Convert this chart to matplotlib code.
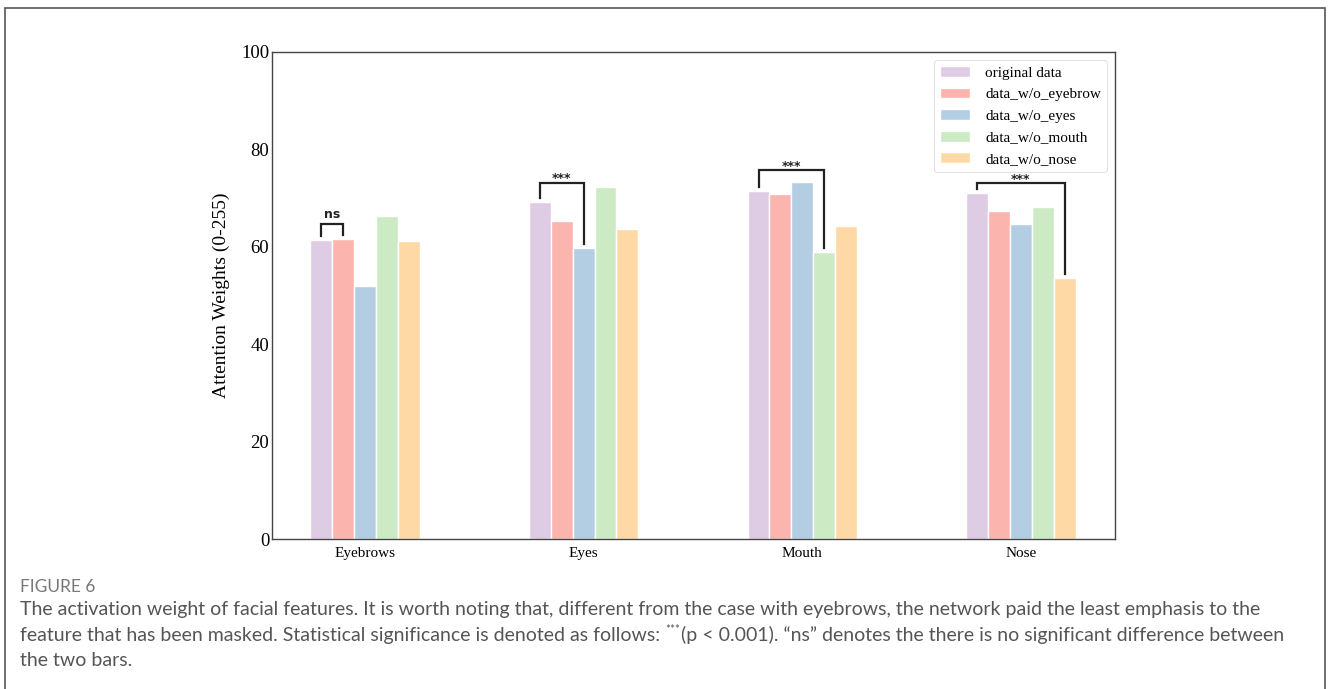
import matplotlib.pyplot as plt
import numpy as np
from matplotlib.patches import Rectangle

# ---------------------------------------------------------------------------
# data
# ---------------------------------------------------------------------------
features = ['Eyebrows', 'Eyes', 'Mouth', 'Nose']
series_names = ['original data', 'data_w/o_eyebrow', 'data_w/o_eyes',
                'data_w/o_mouth', 'data_w/o_nose']
original = [61.4, 69.2, 71.5, 71.0]
wo_eyebrow = [61.6, 65.3, 70.8, 67.4]
wo_eyes = [52.0, 59.8, 73.3, 64.7]
wo_mouth = [66.3, 72.3, 58.9, 68.2]
wo_nose = [61.2, 63.7, 64.3, 53.6]
series_values = [original, wo_eyebrow, wo_eyes, wo_mouth, wo_nose]
colors = ['#decbe4', '#fbb4ae', '#b3cde3', '#ccebc5', '#fed9a6']

# significance brackets: (feature index, series a, series b, label)
sig_pairs = [(0, 0, 1, 'ns'), (1, 0, 2, '***'), (2, 0, 3, '***'), (3, 0, 4, '***')]
sig_tops = [64.6, 73.2, 75.8, 73.1]

caption_head = 'FIGURE 6'
cap_line1 = ('The activation weight of facial features. It is worth noting that, different from the case '
             'with eyebrows, the network paid the least emphasis to the')
cap_line2a = 'feature that has been masked. Statistical significance is denoted as follows: '
cap_line2b = '(p < 0.001). \u201cns\u201d denotes the there is no significant difference between'
cap_line3 = 'the two bars.'

# ---------------------------------------------------------------------------
fig = plt.figure(figsize=(13.28, 6.89), dpi=100)
W, H = 1328, 689
ax = fig.add_axes([272 / W, 1 - 539 / H, (1115 - 272) / W, (539 - 52) / H])

serif = ['Liberation Serif', 'DejaVu Serif']
sans = ['Lato', 'DejaVu Sans']
x = np.arange(len(features))
width = 0.1
offsets = (np.arange(len(series_names)) - 2) * width

for i, (name, vals, c) in enumerate(zip(series_names, series_values, colors)):
    ax.bar(x + offsets[i], vals, width, color=c, edgecolor='white',
           linewidth=1, label=name)

for (fi, a, b, lab), top in zip(sig_pairs, sig_tops):
    xa = fi + offsets[a]
    xb = fi + offsets[b]
    ya = series_values[a][fi] + 0.8
    yb = series_values[b][fi] + 0.8
    ax.plot([xa, xa, xb, xb], [ya, top, top, yb], color='#222222', lw=1.6,
            solid_joinstyle='miter', zorder=6)
    if lab == 'ns':
        ax.text((xa + xb) / 2, top + 0.6, lab, ha='center', va='bottom',
                fontsize=9, fontweight='bold', color='#222222', zorder=7)
    else:
        ax.text((xa + xb) / 2, top - 0.6, lab, ha='center', va='bottom',
                fontsize=9, fontweight='bold', color='#222222', zorder=7)

ax.set_xlim(-0.425, 3.43)
ax.set_ylim(0, 100)
ax.set_yticks([0, 20, 40, 60, 80, 100])
ax.set_xticks(x)
ax.set_xticklabels(features, family=serif, fontsize=11)
for t in ax.get_yticklabels():
    t.set_family(serif)
    t.set_fontsize(13.5)
ax.tick_params(axis='x', length=0, pad=6)
ax.tick_params(axis='y', length=0, pad=2)
ax.set_ylabel('Attention Weights (0-255)', family=serif, fontsize=14, labelpad=8)
for s in ax.spines.values():
    s.set_color('#444444')
    s.set_linewidth(1.0)

leg = ax.legend(loc='upper right', prop={'family': serif, 'size': 11},
                frameon=True, borderpad=0.4, labelspacing=0.52,
                handlelength=2.0, handletextpad=0.95, borderaxespad=0,
                bbox_to_anchor=(0.9905, 0.984))
leg.get_frame().set_edgecolor('#dddddd')
leg.get_frame().set_linewidth(0.8)
leg.set_zorder(5)

# caption and page frame
cap_kw = dict(fontsize=14.05, color='#555555', family=sans, va='center')
fig.text(20 / W, 1 - 587 / H, caption_head, fontsize=12.5, color='#777777',
         family=sans, va='center')
fig.text(20 / W, 1 - 610 / H, cap_line1, **cap_kw)
t2 = fig.text(20 / W, 1 - 635 / H, cap_line2a, **cap_kw)
fig.text(20 / W, 1 - 660 / H, cap_line3, **cap_kw)

renderer = fig.canvas.get_renderer()
x_end = t2.get_window_extent(renderer).x1
t_star = fig.text(x_end / W, 1 - 630 / H, '***', fontsize=8.5, color='#555555',
                  family=sans, va='center')
x_end = t_star.get_window_extent(renderer).x1
fig.text(x_end / W + 1 / W, 1 - 635 / H, cap_line2b, **cap_kw)

fig.add_artist(Rectangle((4.5 / W, -0.05), (1325 - 4.5) / W, 1.05 - 8 / H,
                         transform=fig.transFigure, fill=False,
                         edgecolor='#555555', linewidth=1.2))

fig.savefig('out.png', dpi=100, facecolor='white')
